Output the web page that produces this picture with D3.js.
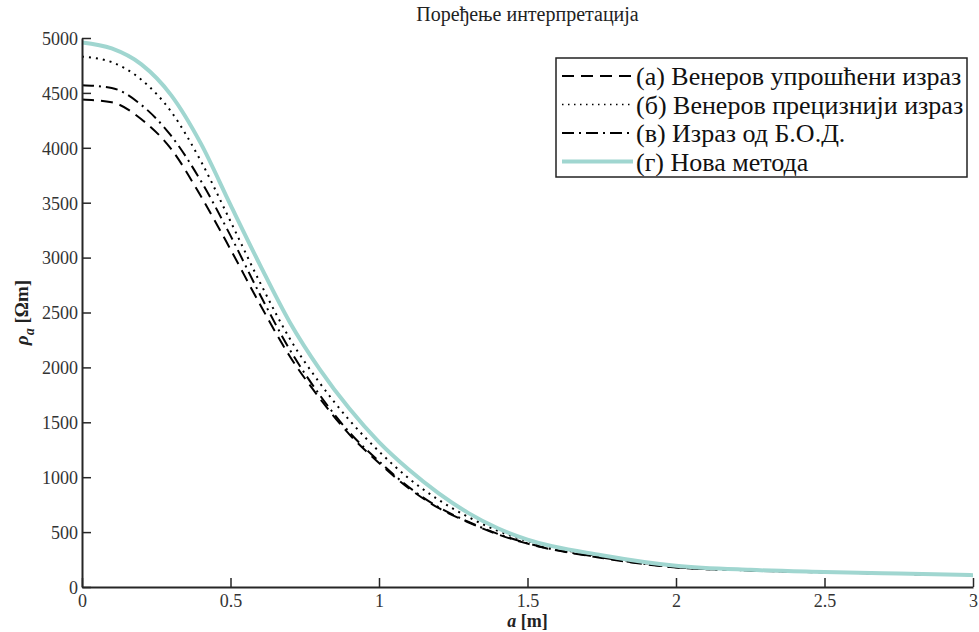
<!DOCTYPE html>
<html>
<head>
<meta charset="utf-8">
<script src="https://cdn.jsdelivr.net/npm/d3@7"></script>
<style>
  body { margin: 0; background: #fff; }
  svg text { font-family: "Liberation Serif", "Times New Roman", "DejaVu Serif", serif !important; }
</style>
</head>
<body>
<svg id="chart" width="979" height="632"></svg>
<script>
// a [m] sample points
const aValues = [0, 0.1, 0.2, 0.3, 0.4, 0.5, 0.6, 0.7, 0.8, 0.9, 1.0, 1.1, 1.2, 1.3, 1.4, 1.5, 1.75, 2.0, 2.25, 2.5, 2.75, 3.0];

// (а) Венеров упрошћени израз
const seriesA = [4440, 4415, 4260, 3990, 3560, 3075, 2570, 2100, 1720, 1390, 1130, 900, 720, 590, 480, 395, 265, 178, 150, 133, 120, 107];
// (б) Венеров прецизнији израз
const seriesB = [4830, 4780, 4620, 4330, 3880, 3330, 2770, 2260, 1860, 1520, 1235, 990, 795, 638, 512, 418, 277, 187, 152, 135, 121, 108];
// (в) Израз од Б.О.Д.
const seriesC = [4570, 4545, 4390, 4110, 3700, 3200, 2660, 2160, 1750, 1410, 1145, 910, 728, 595, 484, 398, 268, 180, 151, 134, 120, 107];
// (г) Нова метода
const seriesD = [4960, 4905, 4760, 4480, 4040, 3480, 2930, 2410, 1985, 1625, 1320, 1070, 855, 675, 535, 432, 290, 194, 156, 137, 122, 108];

const legendLabels = [
    "(а) Венеров упрошћени израз",
    "(б) Венеров прецизнији израз",
    "(в) Израз од Б.О.Д.",
    "(г) Нова метода"
];

const xTicks = [0, 0.5, 1, 1.5, 2, 2.5, 3];
const yTicks = [0, 500, 1000, 1500, 2000, 2500, 3000, 3500, 4000, 4500, 5000];

const width = 979, height = 632;
const margin = { top: 38, right: 6, bottom: 45, left: 82 };
const axisColor = "#262626";

const styles = [
    { color: "#000", width: 2, dash: "12,7" },
    { color: "#000", width: 2, dash: "2,5" },
    { color: "#000", width: 2, dash: "12,5,2,5" },
    { color: "#a0d6d0", width: 4, dash: null }
];
const allSeries = [seriesA, seriesB, seriesC, seriesD];

const svg = d3.select("#chart");

const x = d3.scaleLinear()
    .domain([0, 3])
    .range([margin.left, width - margin.right]);

const y = d3.scaleLinear()
    .domain([0, 5000])
    .range([height - margin.bottom, margin.top]);

// curves
const line = d3.line()
    .x((d, i) => x(aValues[i]))
    .y(d => y(d))
    .curve(d3.curveMonotoneX);

svg.append("g")
    .attr("fill", "none")
    .selectAll("path")
    .data(allSeries)
    .join("path")
    .attr("stroke", (d, i) => styles[i].color)
    .attr("stroke-width", (d, i) => styles[i].width)
    .attr("stroke-dasharray", (d, i) => styles[i].dash)
    .attr("d", d => line(d));

// axes, ticks pointing inward (matlab style)
const xAxis = svg.append("g")
    .attr("transform", `translate(0,${height - margin.bottom})`)
    .call(d3.axisTop(x).tickValues(xTicks).tickSize(9).tickPadding(-29).tickSizeOuter(0).tickFormat(d3.format("")));

const yAxis = svg.append("g")
    .attr("transform", `translate(${margin.left},0)`)
    .call(d3.axisRight(y).tickValues(yTicks).tickSize(9).tickPadding(-13).tickSizeOuter(0).tickFormat(d3.format("")));

[xAxis, yAxis].forEach(g => {
    g.select(".domain").attr("stroke", axisColor).attr("stroke-width", 2);
    g.selectAll(".tick line").attr("stroke", axisColor).attr("stroke-width", 1.5);
    g.selectAll(".tick text")
        .attr("fill", "#333")
        .attr("font-size", 18);
});
yAxis.selectAll(".tick text").attr("text-anchor", "end").attr("dy", "0.35em");

// title
svg.append("text")
    .attr("x", (margin.left + width - margin.right) / 2)
    .attr("y", 21)
    .attr("text-anchor", "middle")
    .attr("font-size", 20)
    .attr("fill", "#222")
    .text("Поређење интерпретација");

// x label
const xl = svg.append("text")
    .attr("x", (margin.left + width - margin.right) / 2)
    .attr("y", 627)
    .attr("text-anchor", "middle")
    .attr("font-size", 18)
    .attr("font-weight", "bold")
    .attr("fill", "#222");
xl.append("tspan").attr("font-style", "italic").text("a");
xl.append("tspan").text(" [m]");

// y label
const yl = svg.append("text")
    .attr("transform", `translate(28,${(margin.top + height - margin.bottom) / 2}) rotate(-90)`)
    .attr("text-anchor", "middle")
    .attr("font-size", 19)
    .attr("font-weight", "bold")
    .attr("fill", "#222");
yl.append("tspan").attr("font-style", "italic").text("ρ");
yl.append("tspan").attr("font-style", "italic").attr("font-size", 14).attr("dy", 6).text("a");
yl.append("tspan").attr("dy", -6).text(" [Ωm]");

// legend
const legend = svg.append("g").attr("transform", "translate(556,58)");
legend.append("rect")
    .attr("width", 411).attr("height", 119)
    .attr("fill", "#fff")
    .attr("stroke", "#222")
    .attr("stroke-width", 1.5);

const rows = legend.selectAll("g.row")
    .data(legendLabels)
    .join("g")
    .attr("class", "row")
    .attr("transform", (d, i) => `translate(0,${18 + i * 28.5})`);

rows.append("line")
    .attr("x1", 6).attr("x2", 77)
    .attr("stroke", (d, i) => styles[i].color)
    .attr("stroke-width", (d, i) => i === 1 ? 1.5 : styles[i].width)
    .attr("stroke-dasharray", (d, i) => i === 1 ? "1.5,4.5" : styles[i].dash);

rows.append("text")
    .attr("x", 80)
    .attr("dy", "0.35em")
    .attr("font-size", 26)
    .attr("fill", "#111")
    .text(d => d);
</script>
</body>
</html>
